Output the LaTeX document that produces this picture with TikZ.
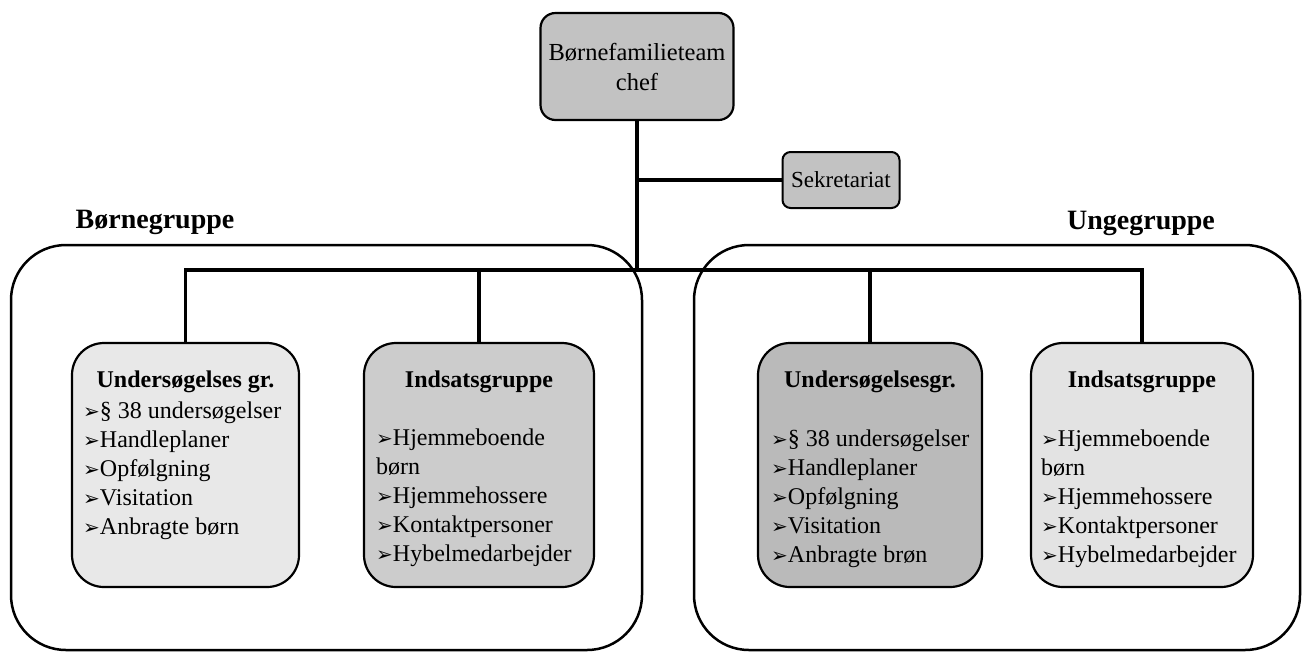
\documentclass[tikz,border=0pt]{standalone}
\usepackage{fontspec}
\setmainfont{Liberation Serif}
\newfontfamily\dejavu{DejaVu Sans}
\newcommand\arrowbul{{\dejavu\bfseries\fontsize{20}{29}\selectfont ➢}}
\newcommand\firstline{\rule{0pt}{20pt}}
\begin{document}
\begin{tikzpicture}[x=1pt,y=-1pt,
  txt/.style={font=\fontsize{24}{29}\selectfont, inner sep=0pt},
  listtxt/.style={txt, align=left, anchor=north west},
  hdr/.style={font=\fontsize{24}{29}\selectfont\bfseries, inner sep=0pt},
  grp/.style={font=\fontsize{28}{32}\selectfont\bfseries, inner sep=0pt},
  outerbox/.style={draw, line width=2.5pt, rounded corners=55pt, inner sep=0pt},
  inbox/.style={draw, line width=2.2pt, rounded corners=32pt, inner sep=0pt, minimum height=244pt},
  conn/.style={line width=3.2pt}
]
\useasboundingbox (0,0) rectangle (1308,657);

% group containers
\node[outerbox, minimum width=631pt, minimum height=405pt] (bg) at (326.5,447.5) {};
\node[outerbox, minimum width=606pt, minimum height=405pt] (ug) at (997,447.5) {};
\node[grp] (bgl) at (155,222) {Børnegruppe};
\node[grp] (ugl) at (1141,223) {Ungegruppe};

% top and secretariat
\node[draw, line width=2.2pt, rounded corners=15pt, fill=black!24,
      minimum width=193pt, minimum height=107pt, align=center, inner sep=0pt,
      font=\fontsize{24.5}{30}\selectfont] (top) at (637,66.5) {Børnefamilieteam\\chef};
\node[draw, line width=2pt, rounded corners=8pt, fill=black!24,
      minimum width=117pt, minimum height=56pt, inner sep=0pt,
      font=\fontsize{23}{28}\selectfont] (sek) at (841,180) {Sekretariat};

% inner boxes
\node[inbox, fill=black!9, minimum width=227pt] (lu) at (185.5,465) {};
\node[inbox, fill=black!20, minimum width=230pt] (li) at (479,465) {};
\node[inbox, fill=black!27, minimum width=224pt] (ru) at (870,465) {};
\node[inbox, fill=black!11, minimum width=222pt] (ri) at (1142,465) {};

% headers
\node[hdr] (luh) at (185.5,382) {Undersøgelses gr.};
\node[hdr] (lih) at (479,382) {Indsatsgruppe};
\node[hdr] (ruh) at (870,382) {Undersøgelsesgr.};
\node[hdr] (rih) at (1142,382) {Indsatsgruppe};

% lists
\node[listtxt] (lul) at (83,398) {\firstline\arrowbul§ 38 undersøgelser\\\arrowbul Handleplaner\\\arrowbul Opfølgning\\\arrowbul Visitation\\\arrowbul Anbragte børn};
\node[listtxt] (lil) at (376,425) {\firstline\arrowbul Hjemmeboende\\børn\\\arrowbul Hjemmehossere\\\arrowbul Kontaktpersoner\\\arrowbul Hybelmedarbejder};
\node[listtxt] (rul) at (771,426) {\firstline\arrowbul§ 38 undersøgelser\\\arrowbul Handleplaner\\\arrowbul Opfølgning\\\arrowbul Visitation\\\arrowbul Anbragte brøn};
\node[listtxt] (ril) at (1041,426) {\firstline\arrowbul Hjemmeboende\\børn\\\arrowbul Hjemmehossere\\\arrowbul Kontaktpersoner\\\arrowbul Hybelmedarbejder};

% connectors
\coordinate (hl) at (0,270);
\draw[conn] (top.south) -- (top.south |- hl);
\draw[conn] (top.south |- sek.west) -- (sek.west);
\draw[conn] (lu.north) -- (lu.north |- hl) -- (ri.north |- hl) -- (ri.north);
\draw[conn] (li.north) -- (li.north |- hl);
\draw[conn] (ru.north) -- (ru.north |- hl);
\end{tikzpicture}
\end{document}
